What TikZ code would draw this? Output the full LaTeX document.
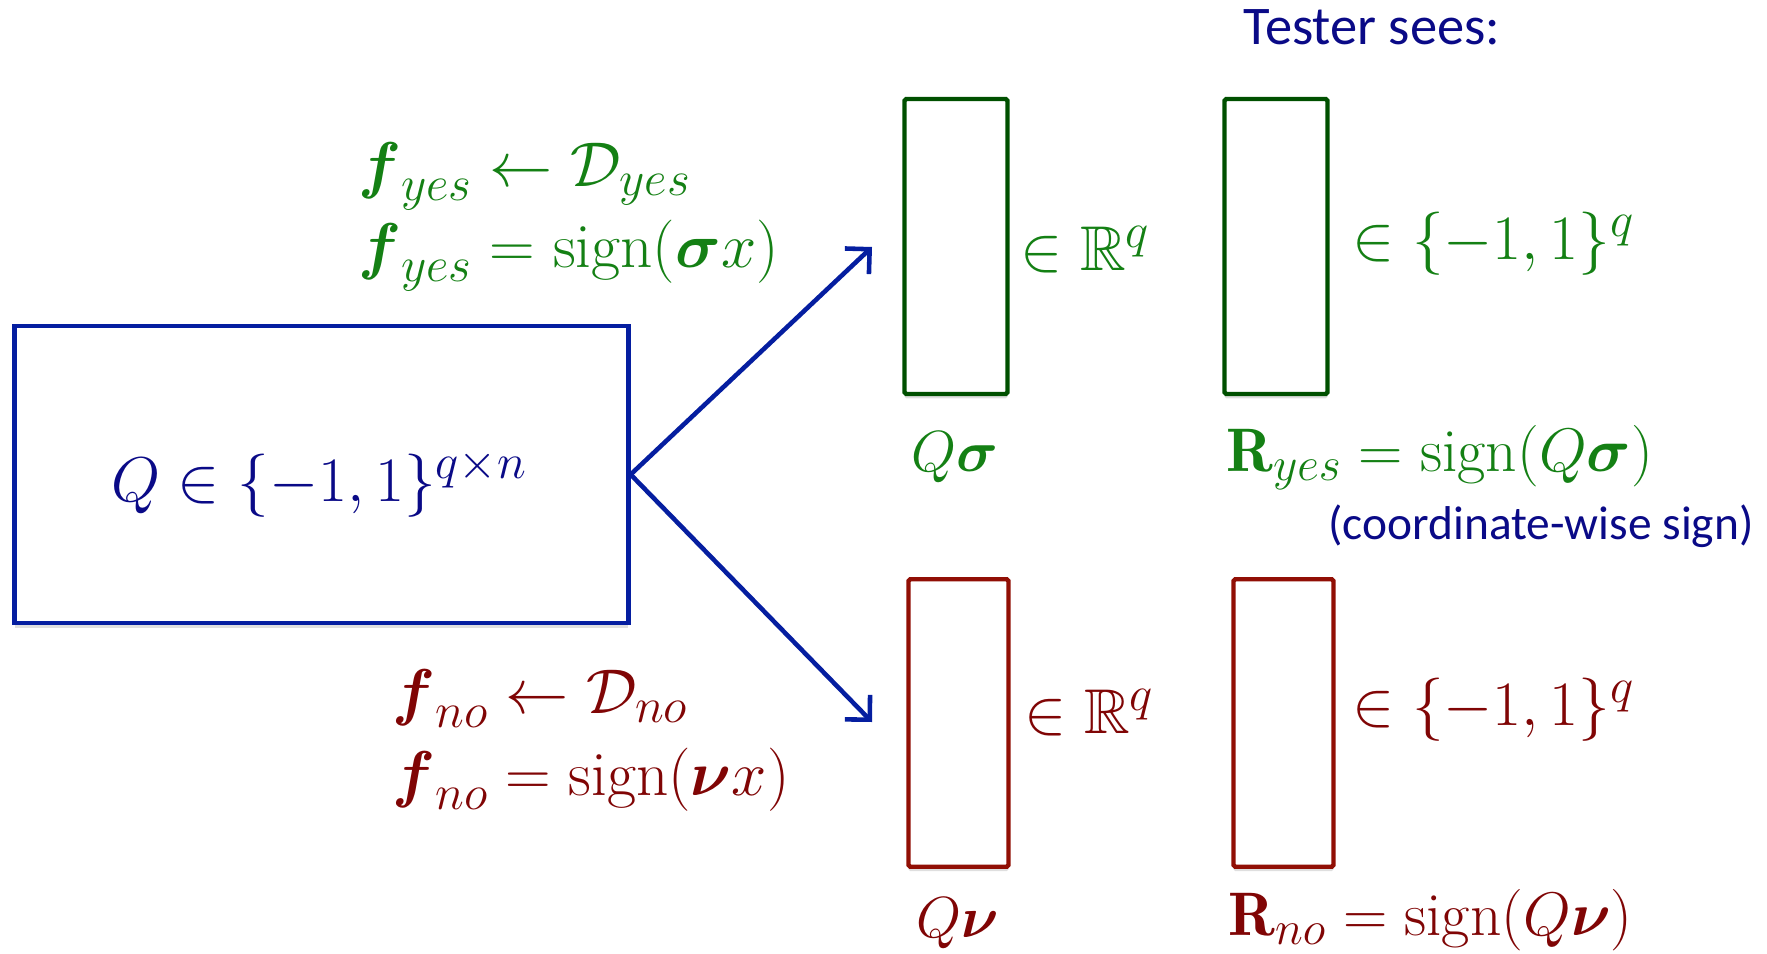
\RequirePackage{fix-cm}
\documentclass[tikz,border=0pt]{standalone}
\usepackage{amsmath,amssymb}
\usepackage{fontspec}
\newfontfamily\calib{Carlito}
\usetikzlibrary{arrows.meta,shadows}
\DeclareMathSizes{36}{36}{28}{21}
\DeclareMathSizes{35}{35}{27}{20}
\DeclareMathSizes{33}{33}{25}{19}
\definecolor{boxblue}{RGB}{5,30,160}
\definecolor{navy}{RGB}{10,10,135}
\definecolor{txtgreen}{RGB}{20,128,20}
\definecolor{boxgreen}{RGB}{0,80,0}
\definecolor{txtred}{RGB}{128,5,5}
\definecolor{boxred}{RGB}{145,15,5}
\tikzset{
  vecbox/.style={draw, line width=2.5pt, rounded corners=1pt, fill=white,
    drop shadow={shadow xshift=0pt, shadow yshift=-2.5pt, opacity=0.25},
    minimum width=2.06cm, minimum height=5.9cm, inner sep=0pt},
  gbox/.style={vecbox, draw=boxgreen},
  rbox/.style={vecbox, draw=boxred, minimum width=2.0cm, minimum height=5.75cm},
  mathlbl/.style={anchor=base west, inner sep=0pt, font=\fontsize{36}{42}\selectfont},
  glbl/.style={mathlbl, text=txtgreen},
  rlbl/.style={mathlbl, text=txtred},
  smalllbl/.style={font=\fontsize{33}{38}\selectfont},
  midlbl/.style={font=\fontsize{35}{40}\selectfont},
  conn/.style={draw=boxblue, line width=2.6pt, -{Straight Barb[length=10pt,width=20pt,line width=2.6pt]}},
  plain/.style={anchor=base west, inner sep=0pt, text=navy, font=\calib\fontsize{31}{36}\selectfont}
}
\begin{document}
\begin{tikzpicture}[x=0.02cm, y=-0.02cm]
\useasboundingbox (0,0) rectangle (1767,953);
% main box
\node[draw=boxblue, line width=2.5pt, fill=white,
  drop shadow={shadow xshift=0pt, shadow yshift=-2.5pt, opacity=0.25},
  minimum width=12.28cm, minimum height=5.95cm, inner sep=0pt] (qbox) at (321.5,474.5) {};
\node[anchor=base, inner sep=0pt, text=navy, font=\fontsize{36}{42}\selectfont] (qtxt) at (319,501) {$Q\in\{-1,1\}^{q\times n}$};

% vector boxes
\node[gbox] (g1) at (956,246.5) {};
\node[gbox] (g2) at (1276,246.5) {};
\node[rbox] (r1) at (958.5,723) {};
\node[rbox] (r2) at (1283.5,723) {};

% arrows
\coordinate (ytip) at (872,247);
\coordinate (ntip) at (872,722);
\draw[conn] (qbox.east) -- (ytip);
\draw[conn] (qbox.east) -- (ntip);

% green labels
\node[glbl] (fy1) at (358,186) {$\boldsymbol{f}_{yes}\leftarrow\mathcal{D}_{yes}$};
\node[glbl] (fy2) at (358,267) {$\boldsymbol{f}_{yes}=\mathrm{sign}(\boldsymbol{\sigma}x)$};
\node[glbl] (g1r) at (1020,270) {$\in\mathbb{R}^q$};
\node[glbl] (g2r) at (1352,259) {$\in\{-1,1\}^q$};
\node[glbl, smalllbl] (g1b) at (911,471) {$Q\boldsymbol{\sigma}$};
\node[glbl, midlbl] (g2b) at (1226,471) {$\mathbf{R}_{yes}=\mathrm{sign}(Q\boldsymbol{\sigma})$};

% red labels
\node[rlbl] (fn1) at (392,713) {$\boldsymbol{f}_{no}\leftarrow\mathcal{D}_{no}$};
\node[rlbl] (fn2) at (392,795) {$\boldsymbol{f}_{no}=\mathrm{sign}(\boldsymbol{\nu}x)$};
\node[rlbl] (r1r) at (1024,733) {$\in\mathbb{R}^q$};
\node[rlbl] (r2r) at (1352,725) {$\in\{-1,1\}^q$};
\node[rlbl, smalllbl] (r1b) at (916,937) {$Q\boldsymbol{\nu}$};
\node[rlbl, midlbl] (r2b) at (1228,935) {$\mathbf{R}_{no}=\mathrm{sign}(Q\boldsymbol{\nu})$};

% plain text
\node[plain] (tester) at (1243,45) {Tester sees:};
\node[plain, font=\calib\fontsize{27}{32}\selectfont] (coord) at (1328,539) {(coordinate-wise sign)};
\end{tikzpicture}
\end{document}
